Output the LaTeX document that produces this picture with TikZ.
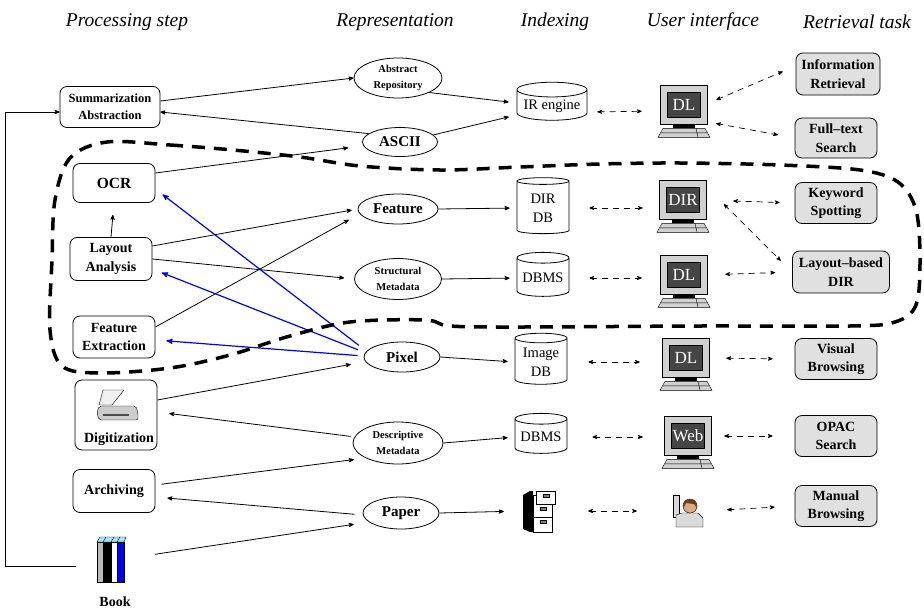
\documentclass[tikz,border=0pt]{standalone}
\usepackage{fontspec}
\setmainfont{Liberation Serif}
\usetikzlibrary{arrows, shapes.geometric, positioning}
\definecolor{taskgray}{gray}{0.88}
\definecolor{framegray}{gray}{0.82}
\definecolor{screengray}{gray}{0.27}
\definecolor{shirt}{gray}{0.85}
\definecolor{skin}{RGB}{222,170,130}
\definecolor{hair}{RGB}{110,60,30}
\tikzset{
>=stealth', % filled heads with a notch
head/.style={font=\hdfont}, % column titles
proc/.style={draw, line width=0.8pt, rounded corners=7pt, align=center, font=\labfont, minimum width=82pt, minimum height=41pt, inner sep=2pt}, % processing steps
task/.style={proc, fill=taskgray}, % retrieval tasks
repr/.style={draw, line width=0.8pt, ellipse, align=center, font=\reprfont, inner sep=0pt, minimum width=76pt, minimum height=30pt},
smallrepr/.style={repr, font=\smallfont, minimum width=88pt, minimum height=42pt},
store/.style={draw, line width=0.8pt, cylinder, shape border rotate=90, aspect=0.25, align=center, font=\dbfont, inner sep=1pt, minimum width=52pt},
screen/.style={draw=black, line width=0.6pt, double=framegray, double distance=6pt, fill=screengray, text=white, font=\scrfont, minimum width=40pt, minimum height=32pt, inner sep=0pt},
icon/.style={inner sep=0pt},
flow/.style={->, line width=0.8pt},
back/.style={->, blue, line width=1.2pt}, % fed back from the pixel level
link/.style={<->, dashed, line width=0.7pt, dash pattern=on 6pt off 5pt},
zone/.style={line width=3.5pt, dash pattern=on 13pt off 9pt},
}
\newcommand{\hdfont}{\fontsize{19.5}{22}\selectfont\itshape}
\newcommand{\labfont}{\fontsize{14}{18.5}\selectfont\bfseries}
\newcommand{\reprfont}{\fontsize{15}{17}\selectfont\bfseries}
\newcommand{\smallfont}{\fontsize{10.5}{16}\selectfont\bfseries}
\newcommand{\dbfont}{\fontsize{14.5}{19}\selectfont}
\newcommand{\scrfont}{\fontsize{17}{18}\selectfont}
% a desktop: screen node #1 at #2 showing #3, stand and keyboard below it
\newcommand{\pc}[3]{%
  \node[screen] (#1) at (#2) {#3};
  \begin{scope}[shift={(#1.south)}]
    \fill (-11,3.5) rectangle (11,7);
    \draw[fill=framegray] (-21,7) -- (21,7) -- (26,16) -- (-26,16) -- cycle;
    \draw (-23,11.5) -- (23,11.5) (12,7) -- (14,16);
  \end{scope}
}

\begin{document}
\begin{tikzpicture}[x=1pt, y=-1pt]
  \useasboundingbox (0,0) rectangle (924,608);

  % column titles
  \node[head] (hproc) at (127,22) {Processing step};
  \node[head] (hrepr) at (395,22) {Representation};
  \node[head] (hidx) at (555,22) {Indexing};
  \node[head] (hui) at (703,22) {User interface};
  \node[head] (htask) at (857,22) {Retrieval task};

  % processing steps
  \node[proc, minimum width=100pt, font=\fontsize{12.5}{17}\selectfont\bfseries] (summ) at (110,107) {Summarization\\Abstraction};
  \node[proc, minimum height=39pt, font=\fontsize{15.5}{18}\selectfont\bfseries] (ocr) at (114,183) {OCR};
  \node[proc, minimum height=43pt] (layout) at (111,259) {Layout\\Analysis};
  \node[proc, minimum height=42pt] (featx) at (114,337) {Feature\\Extraction};
  \node[proc, minimum height=70pt, label={[anchor=south, font=\labfont, xshift=3pt, yshift=1pt]south:Digitization}] (digi) at (116,415) {};
  \node[proc, minimum height=43pt] (arch) at (114,491) {Archiving};
  \node[icon, minimum width=74pt, minimum height=48pt] (book) at (113,560) {};
  \node[font=\labfont] (booktxt) at (115,602) {Book};

  % representations
  \node[smallrepr, minimum height=40pt] (abstr) at (398,78) {Abstract\\Repository};
  \node[repr, minimum width=75pt, minimum height=29pt] (ascii) at (400,142) {ASCII};
  \node[repr, minimum width=80pt] (feat) at (398,209) {Feature};
  \node[smallrepr, minimum width=87pt, minimum height=41pt] (struct) at (398,279) {Structural\\Metadata};
  \node[repr] (pixel) at (402,357) {Pixel};
  \node[smallrepr, minimum width=90pt] (descr) at (398,443) {Descriptive\\Metadata};
  \node[repr, minimum height=32pt] (paper) at (401,513) {Paper};

  % indexing
  \node[store, minimum width=70pt, minimum height=38pt] (ireng) at (552,106) {IR engine};
  \node[store, minimum height=56pt] (dirdb) at (543,208) {DIR\\DB};
  \node[store, minimum height=44pt] (dbmsa) at (543,278) {DBMS};
  \node[store, minimum height=51pt] (imgdb) at (541,362) {Image\\DB};
  \node[store, minimum height=40pt] (dbmsb) at (541,437) {DBMS};
  \node[icon, minimum width=34pt, minimum height=42pt] (cab) at (539,511) {};

  % user interfaces
  \pc{dlone}{684,105}{DL}
  \pc{dirpc}{683,200}{DIR}
  \pc{dltwo}{684,275}{DL}
  \pc{dlthree}{686,358}{DL}
  \pc{webpc}{688,436}{Web}
  \node[icon, minimum width=34pt, minimum height=34pt] (user) at (688,511) {};

  % retrieval tasks
  \node[task, minimum width=84pt, minimum height=42pt] (info) at (838,74) {Information\\Retrieval};
  \node[task, minimum height=40pt] (full) at (836,138) {Full--text\\Search};
  \node[task] (kws) at (836,203) {Keyword\\Spotting};
  \node[task, minimum width=97pt, minimum height=42pt] (ldir) at (841,272) {Layout--based\\DIR};
  \node[task] (visual) at (836,359) {Visual\\Browsing};
  \node[task] (opac) at (836,436) {OPAC\\Search};
  \node[task] (manual) at (836,506) {Manual\\Browsing};

  % scanner
  \begin{scope}[shift={(digi.center)}]
    \draw[fill=gray!12] (-13,-25) -- (8,-25) -- (-4,-10) -- (-17,-10) -- cycle;
    \draw[fill=gray!40, rounded corners=2pt] (-17,-9) -- (20,-9) -- (22,-2) -- (22,5) -- (-17,5) -- (-19,-2) -- cycle;
    \draw[line width=1.5pt, gray!60!black] (-13,0) -- (13,0);
  \end{scope}
  % books
  \begin{scope}[shift={(book.center)}]
    \draw[fill=gray!55] (-16,-18) rectangle (-10,22);
    \draw[fill=black] (-10,-18) rectangle (-2,22);
    \draw[fill=white] (-2,-18) rectangle (4,22);
    \draw[fill=blue] (4,-18) rectangle (11,22);
    \draw[fill=cyan!35] (-16,-18) -- (-13,-23) -- (13,-23) -- (11,-18) -- cycle;
    \draw (-10,-18) -- (-7,-23) (-2,-18) -- (1,-23) (4,-18) -- (7,-23);
  \end{scope}
  % filing cabinet
  \begin{scope}[shift={(cab.center)}]
    \fill (-16,-16) -- (-9,-20) -- (-6,-20) -- (-6,21) -- (-9,21) -- (-16,18) -- cycle;
    \draw[fill=white] (-6,-16) rectangle (13,21);
    \draw (-6,6) -- (13,6);
    \draw[fill=white] (-3,-20) rectangle (16,-7);
    \draw[fill=gray] (4,-17) rectangle (10,-14) (1,-4) rectangle (7,-1) (1,9) rectangle (7,12);
  \end{scope}
  % person waving
  \begin{scope}[shift={(user.center)}]
    \draw[fill=shirt] (-15,-16) rectangle (-9,6);
    \draw[fill=shirt] (-12,4) -- (-6,2) -- (10,2) -- (15,7) -- (15,16) -- (-12,16) -- cycle;
    \draw[fill=skin] (2,-5) circle (7pt);
    \fill[hair] (-5,-5) arc[start angle=180, end angle=0, radius=7pt] -- (9,-3) -- (6,-7) -- (-2,-8) -- (-5,-2) -- cycle;
  \end{scope}

  % processing flow
  \draw[flow] ([yshift=6pt]summ.east) -- (abstr.west);
  \draw[flow] (ascii.165) -- ([yshift=-5pt]summ.east);
  \draw[flow, shorten >=8pt] (abstr.-25) -- ([yshift=3pt]ireng.west);
  \draw[flow, shorten >=8pt] (ascii.12) -- ([yshift=-9pt]ireng.west);
  \draw[flow, shorten >=14pt] ([yshift=10pt]ocr.east) -- ([yshift=-4pt]ascii.west);
  \draw[flow, shorten >=12pt] (layout.north) -- (ocr.south);
  \draw[flow, shorten >=6pt] ([yshift=13pt]layout.east) -- (feat.west);
  \draw[flow, shorten >=10pt] ([yshift=10pt]featx.east) -- ([yshift=-6pt]feat.west);
  \draw[flow, shorten >=10pt] (layout.east) -- (struct.west);
  \draw[flow, shorten >=13pt] ([yshift=15pt]digi.east) -- ([yshift=-5pt]pixel.west);
  \draw[flow, shorten >=12pt, shorten <=4pt] (descr.172) -- ([yshift=3pt]digi.east);
  \draw[flow, shorten >=12pt, shorten <=6pt] ([yshift=6pt]arch.east) -- (descr.205);
  \draw[flow, shorten >=12pt, shorten <=8pt] ([yshift=-2pt]paper.west) -- ([yshift=-6pt]arch.east);
  \draw[flow, shorten >=9pt, shorten <=5pt] ([yshift=5pt]book.east) -- ([yshift=-10pt]paper.west);
  \draw[flow] ([yshift=-6pt]book.west) -- ++(-70,0) |- ([yshift=-5pt]summ.west);

  % indexing
  \draw[flow, shorten >=7pt] (feat.east) -- (dirdb.west);
  \draw[flow, shorten >=7pt] (struct.east) -- (dbmsa.west);
  \draw[flow, shorten >=7pt] (pixel.east) -- (imgdb.west);
  \draw[flow, shorten >=7pt] (descr.east) -- (dbmsb.west);
  \draw[flow, shorten >=18pt] (paper.east) -- (cab.west);

  % back to the processing steps
  \draw[back, shorten <=6pt, shorten >=9pt] ([yshift=8pt]pixel.west) -- ([yshift=-6pt]ocr.east);
  \draw[back, shorten <=6pt, shorten >=10pt] ([yshift=5pt]pixel.west) -- ([yshift=-10pt]layout.east);
  \draw[back, shorten <=6pt, shorten >=11pt] ([yshift=1pt]pixel.west) -- ([yshift=-3pt]featx.east);

  % access
  \draw[link, shorten <=10pt, shorten >=22pt] ([yshift=-6pt]ireng.east) -- ([yshift=-6pt]dlone.west);
  \draw[link, shorten <=13pt, shorten >=14pt] (dlone.east) -- ([yshift=8pt]info.west);
  \draw[link, shorten <=12pt, shorten >=17pt] (dlone.south east) -- (full.west);
  \draw[link, shorten <=20pt, shorten >=20pt] (dirdb.east) -- (dirdb.east -| dirpc.west);
  \draw[link, shorten <=30pt, shorten >=15pt] (dirpc.east) -- (kws.west);
  \draw[link, shorten <=29pt, shorten >=16pt] (dirpc.north east) -- (ldir.west);
  \draw[link, shorten <=20pt, shorten >=22pt] (dbmsa.east) -- (dbmsa.east -| dltwo.west);
  \draw[link, shorten <=21pt, shorten >=17pt] (dltwo.east) -- (ldir.west);
  \draw[link, shorten <=21pt, shorten >=26pt] (imgdb.east) -- (imgdb.east -| dlthree.west);
  \draw[link, shorten <=20pt, shorten >=22pt] (dlthree.east) -- (visual.west);
  \draw[link, shorten <=25pt, shorten >=25pt] (dbmsb.east) -- (dbmsb.east -| webpc.west);
  \draw[link, shorten <=16pt, shorten >=22pt] (webpc.east) -- (opac.west);
  \draw[link, shorten <=32pt, shorten >=34pt] (cab.east) -- (user.west);
  \draw[link, shorten <=22pt, shorten >=20pt] (user.east) -- (manual.west);

  % document image retrieval area
  \draw[zone] plot[smooth cycle, tension=0.55] coordinates {
    (107,142) (170,145) (233,150) (300,157) (360,166) (440,170) (520,167)
    (600,164) (680,163) (780,165) (860,170) (898,182) (916,210) (920,260)
    (916,305) (895,322) (850,326) (700,326) (520,327) (450,326) (425,320)
    (350,322) (290,336) (230,355) (170,368) (100,373) (62,366) (50,330)
    (52,260) (55,200) (70,158)};
\end{tikzpicture}
\end{document}
